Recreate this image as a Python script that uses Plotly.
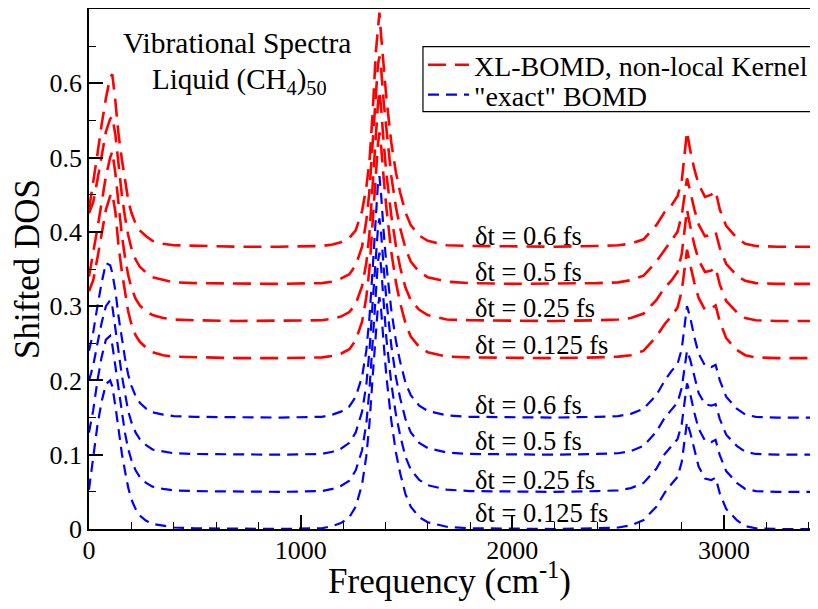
import plotly.graph_objects as go

# Frequency grid (cm^-1) shared by all spectra
freq = [0, 20, 40, 60, 80, 100, 110, 125, 140, 155,
        170, 185, 200, 220, 240, 270, 300, 350, 400, 500,
        700, 900, 1100, 1150, 1190, 1230, 1260, 1290, 1310, 1325,
        1340, 1355, 1365, 1372, 1380, 1392, 1405, 1428, 1450, 1470,
        1495, 1520, 1560, 1600, 1690, 1800, 2000, 2200, 2400, 2500,
        2560, 2620, 2680, 2720, 2750, 2780, 2800, 2815, 2825, 2840,
        2860, 2880, 2910, 2940, 2960, 2980, 3010, 3060, 3100, 3150,
        3250, 3450]

# Unshifted DOS (value minus its vertical shift)
xl_06 = [0.050, 0.085, 0.125, 0.165, 0.200, 0.228, 0.232, 0.195, 0.150, 0.118,
         0.088, 0.063, 0.046, 0.031, 0.022, 0.014, 0.008, 0.004, 0.002, 0.001,
         0.000, 0.000, 0.001, 0.003, 0.006, 0.012, 0.022, 0.048, 0.080, 0.115,
         0.180, 0.262, 0.300, 0.315, 0.284, 0.238, 0.200, 0.140, 0.100, 0.073,
         0.046, 0.029, 0.015, 0.008, 0.002, 0.001, 0.000, 0.000, 0.001, 0.002,
         0.004, 0.010, 0.029, 0.047, 0.055, 0.068, 0.088, 0.125, 0.155, 0.130,
         0.104, 0.084, 0.067, 0.070, 0.075, 0.050, 0.028, 0.012, 0.004, 0.001,
         0.000, 0.000]
xl_05 = [0.095, 0.110, 0.140, 0.170, 0.205, 0.222, 0.225, 0.200, 0.155, 0.120,
         0.090, 0.066, 0.048, 0.033, 0.023, 0.015, 0.009, 0.005, 0.002, 0.001,
         0.000, 0.000, 0.001, 0.003, 0.007, 0.013, 0.025, 0.050, 0.085, 0.125,
         0.190, 0.258, 0.295, 0.306, 0.290, 0.245, 0.205, 0.145, 0.103, 0.075,
         0.048, 0.030, 0.016, 0.009, 0.003, 0.001, 0.000, 0.000, 0.001, 0.002,
         0.005, 0.011, 0.030, 0.046, 0.058, 0.070, 0.092, 0.120, 0.142, 0.125,
         0.100, 0.080, 0.064, 0.066, 0.070, 0.048, 0.027, 0.011, 0.004, 0.001,
         0.000, 0.000]
xl_025 = [0.060, 0.090, 0.125, 0.160, 0.195, 0.220, 0.228, 0.198, 0.152, 0.116,
          0.086, 0.062, 0.045, 0.030, 0.021, 0.013, 0.008, 0.004, 0.002, 0.001,
          0.000, 0.000, 0.001, 0.003, 0.006, 0.012, 0.023, 0.047, 0.078, 0.118,
          0.185, 0.255, 0.292, 0.310, 0.287, 0.240, 0.198, 0.142, 0.101, 0.072,
          0.045, 0.028, 0.015, 0.008, 0.002, 0.001, 0.000, 0.000, 0.001, 0.002,
          0.004, 0.010, 0.028, 0.045, 0.054, 0.066, 0.090, 0.128, 0.150, 0.128,
          0.102, 0.082, 0.066, 0.068, 0.072, 0.049, 0.027, 0.012, 0.004, 0.001,
          0.000, 0.000]
xl_0125 = [0.090, 0.105, 0.135, 0.168, 0.200, 0.218, 0.222, 0.196, 0.150, 0.117,
           0.087, 0.063, 0.046, 0.031, 0.022, 0.014, 0.008, 0.004, 0.002, 0.001,
           0.000, 0.000, 0.001, 0.003, 0.006, 0.012, 0.024, 0.049, 0.082, 0.120,
           0.182, 0.250, 0.288, 0.304, 0.285, 0.242, 0.202, 0.143, 0.102, 0.074,
           0.047, 0.029, 0.015, 0.008, 0.002, 0.001, 0.000, 0.000, 0.001, 0.002,
           0.004, 0.010, 0.029, 0.046, 0.056, 0.068, 0.090, 0.124, 0.146, 0.126,
           0.101, 0.081, 0.065, 0.067, 0.071, 0.049, 0.027, 0.011, 0.004, 0.001,
           0.000, 0.000]
ex_06 = [0.090, 0.115, 0.150, 0.182, 0.208, 0.205, 0.195, 0.170, 0.135, 0.105,
         0.080, 0.058, 0.043, 0.029, 0.020, 0.012, 0.007, 0.004, 0.002, 0.001,
         0.000, 0.000, 0.001, 0.004, 0.008, 0.015, 0.028, 0.055, 0.090, 0.135,
         0.200, 0.275, 0.315, 0.325, 0.300, 0.250, 0.205, 0.145, 0.103, 0.075,
         0.047, 0.030, 0.016, 0.009, 0.003, 0.001, 0.000, 0.000, 0.001, 0.002,
         0.005, 0.012, 0.030, 0.050, 0.062, 0.072, 0.092, 0.125, 0.150, 0.135,
         0.108, 0.086, 0.070, 0.068, 0.071, 0.050, 0.028, 0.012, 0.004, 0.001,
         0.000, 0.000]
ex_05 = [0.100, 0.120, 0.150, 0.178, 0.200, 0.208, 0.200, 0.172, 0.138, 0.107,
         0.081, 0.059, 0.044, 0.030, 0.021, 0.013, 0.007, 0.004, 0.002, 0.001,
         0.000, 0.000, 0.001, 0.004, 0.008, 0.016, 0.030, 0.058, 0.094, 0.140,
         0.205, 0.270, 0.305, 0.318, 0.298, 0.252, 0.208, 0.147, 0.104, 0.076,
         0.048, 0.030, 0.016, 0.009, 0.003, 0.001, 0.000, 0.000, 0.001, 0.002,
         0.005, 0.012, 0.031, 0.050, 0.060, 0.070, 0.090, 0.118, 0.140, 0.128,
         0.104, 0.083, 0.068, 0.066, 0.068, 0.048, 0.027, 0.012, 0.004, 0.001,
         0.000, 0.000]
ex_025 = [0.080, 0.110, 0.150, 0.182, 0.205, 0.210, 0.198, 0.168, 0.134, 0.104,
          0.079, 0.058, 0.043, 0.029, 0.020, 0.012, 0.007, 0.004, 0.002, 0.001,
          0.000, 0.000, 0.001, 0.004, 0.008, 0.015, 0.029, 0.056, 0.092, 0.138,
          0.202, 0.272, 0.310, 0.322, 0.302, 0.255, 0.206, 0.146, 0.104, 0.076,
          0.047, 0.030, 0.016, 0.009, 0.003, 0.001, 0.000, 0.000, 0.001, 0.002,
          0.005, 0.012, 0.031, 0.051, 0.061, 0.071, 0.091, 0.122, 0.146, 0.132,
          0.106, 0.085, 0.069, 0.067, 0.070, 0.049, 0.028, 0.012, 0.004, 0.001,
          0.000, 0.000]
ex_0125 = [0.053, 0.095, 0.140, 0.172, 0.195, 0.200, 0.192, 0.165, 0.132, 0.102,
           0.078, 0.056, 0.040, 0.027, 0.018, 0.011, 0.007, 0.004, 0.002, 0.001,
           0.000, 0.000, 0.001, 0.004, 0.008, 0.016, 0.030, 0.060, 0.098, 0.142,
           0.205, 0.268, 0.300, 0.312, 0.295, 0.250, 0.205, 0.146, 0.103, 0.075,
           0.047, 0.030, 0.016, 0.009, 0.003, 0.001, 0.000, 0.000, 0.001, 0.002,
           0.005, 0.012, 0.030, 0.049, 0.060, 0.070, 0.090, 0.120, 0.144, 0.130,
           0.105, 0.084, 0.068, 0.066, 0.069, 0.048, 0.027, 0.012, 0.004, 0.001,
           0.000, 0.000]

timesteps = ["0.6", "0.5", "0.25", "0.125"]
xl_series = [xl_06, xl_05, xl_025, xl_0125]
xl_shifts = [0.38, 0.33, 0.28, 0.23]
ex_series = [ex_06, ex_05, ex_025, ex_0125]
ex_shifts = [0.15, 0.10, 0.05, 0.0]
xl_label_y = [0.395, 0.346, 0.298, 0.248]
ex_label_y = [0.167, 0.118, 0.066, 0.022]

SERIF = "Liberation Serif"
RED = "#ff0000"
BLUE = "#0000ff"

fig = go.Figure()
for i, (s, sh) in enumerate(zip(xl_series, xl_shifts)):
    fig.add_trace(go.Scatter(
        x=freq, y=[v + sh for v in s], mode="lines",
        line=dict(color=RED, width=2.6, dash="18px,9px"),
        name="XL-BOMD, non-local Kernel", showlegend=(i == 0),
        legend="legend"))
for i, (s, sh) in enumerate(zip(ex_series, ex_shifts)):
    fig.add_trace(go.Scatter(
        x=freq, y=[v + sh for v in s], mode="lines",
        line=dict(color=BLUE, width=2.2, dash="11px,7px"),
        name='"exact" BOMD', showlegend=(i == 0),
        legend="legend2"))

annotations = []
for ts, yy in zip(timesteps, xl_label_y):
    annotations.append(dict(x=1812, y=yy, xref="x", yref="y", text="δt = %s fs" % ts,
                            showarrow=False, xanchor="left", yanchor="middle",
                            font=dict(family=SERIF, size=26.5, color="black")))
for ts, yy in zip(timesteps, ex_label_y):
    annotations.append(dict(x=1812, y=yy, xref="x", yref="y", text="δt = %s fs" % ts,
                            showarrow=False, xanchor="left", yanchor="middle",
                            font=dict(family=SERIF, size=26.5, color="black")))
annotations.append(dict(x=700, y=0.654, xref="x", yref="y", text="Vibrational Spectra",
                        showarrow=False, xanchor="center", yanchor="middle",
                        font=dict(family=SERIF, size=29.5, color="black")))
annotations.append(dict(x=710, y=0.603, xref="x", yref="y",
                        text="Liquid (CH<sub>4</sub>)<sub>50</sub>",
                        showarrow=False, xanchor="center", yanchor="middle",
                        font=dict(family=SERIF, size=29, color="black")))

LEG_X = 0.4632
legend_common = dict(x=LEG_X, xanchor="left", yanchor="middle",
                     bgcolor="rgba(255,255,255,0)", borderwidth=0, itemwidth=41,
                     font=dict(family=SERIF, size=28, color="black"))

# The page body keeps its default 8 px margin; the figure is sized to fit inside
# it (802 x 593) so the page never overflows, and the margins place the plot
# area where the reference has it.
fig.update_layout(
    width=802, height=593,
    margin=dict(l=81, r=0, t=1, b=72, autoexpand=False),
    paper_bgcolor="white", plot_bgcolor="white",
    font=dict(family=SERIF, color="black"),
    annotations=annotations,
    showlegend=True,
    legend=dict(y=0.8923, **legend_common),
    legend2=dict(y=0.8346, **legend_common),
    shapes=[dict(type="rect", xref="paper", yref="paper",
                 x0=LEG_X, x1=1.05, y0=0.8025, y1=0.9275,
                 line=dict(color="black", width=1.2), fillcolor="rgba(0,0,0,0)")],
)
fig.update_xaxes(
    range=[0, 3406], showgrid=False, zeroline=False, automargin=False,
    showline=True, mirror=True, linecolor="black", linewidth=1.5,
    ticks="inside", ticklen=14, tickwidth=1.5, tickcolor="black",
    tickvals=[0, 1000, 2000, 3000], ticklabelstandoff=-3,
    minor=dict(dtick=200, tick0=0, ticks="inside", ticklen=7, tickwidth=1.2,
               tickcolor="black", showgrid=False),
    tickfont=dict(family=SERIF, size=26, color="black"),
    title=dict(text="Frequency (cm<sup>-1</sup>)",
               font=dict(family=SERIF, size=35, color="black"), standoff=10),
)
fig.update_yaxes(
    range=[0, 0.7], showgrid=False, zeroline=False, automargin=False,
    showline=True, mirror=False, linecolor="black", linewidth=1.5,
    ticks="inside", ticklen=14, tickwidth=1.5, tickcolor="black",
    tickvals=[0, 0.1, 0.2, 0.3, 0.4, 0.5, 0.6],
    ticktext=["0", "0.1", "0.2", "0.3", "0.4", "0.5", "0.6"],
    minor=dict(dtick=0.05, tick0=0, ticks="inside", ticklen=7, tickwidth=1.2,
               tickcolor="black", showgrid=False),
    tickfont=dict(family=SERIF, size=26, color="black"),
    title=dict(text="Shifted DOS",
               font=dict(family=SERIF, size=35, color="black"), standoff=4),
)

fig.write_html("out.html")
